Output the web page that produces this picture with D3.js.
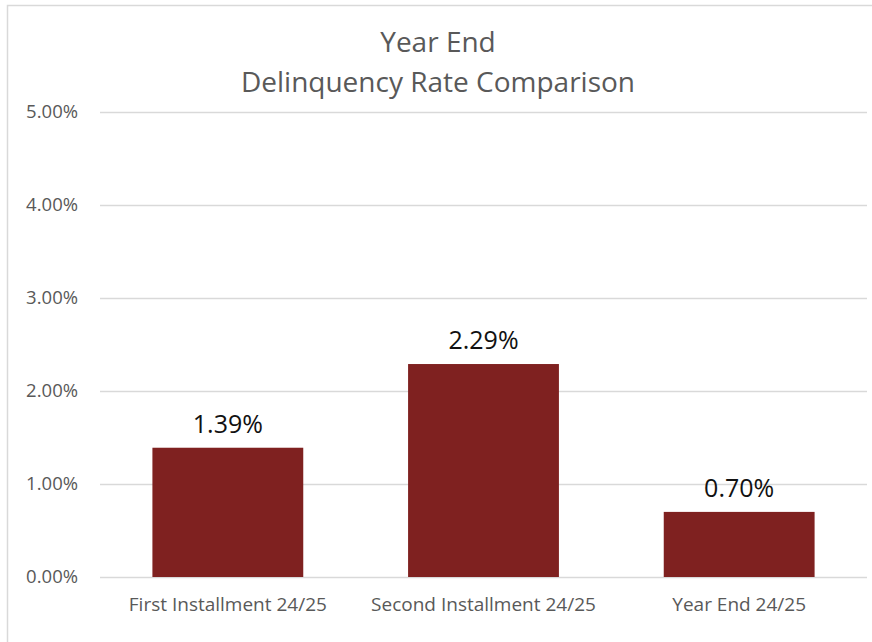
<!DOCTYPE html>
<html>
<head>
<meta charset="utf-8">
<script src="https://cdn.jsdelivr.net/npm/d3@7"></script>
<style>
  body { margin: 0; background: #fff; }
  svg text { font-family: "Open Sans", "Lato", sans-serif; }
</style>
</head>
<body>
<script>

var categories = ["First Installment 24/25", "Second Installment 24/25", "Year End 24/25"]
var rates = [1.39, 2.29, 0.70]
var ticks = [0, 1, 2, 3, 4, 5]
var titleLines = ["Year End", "Delinquency Rate Comparison"]

var width = 872, height = 642
var plotLeft = 100, plotRight = 867, plotTop = 112, plotBottom = 577

var svg = d3.select("body")
  .append("svg")
    .attr("width", width)
    .attr("height", height)

/******** Chart border *********/
svg.append("rect")
  .attr("x", 7.5)
  .attr("y", 5.5)
  .attr("width", 880)
  .attr("height", 660)
  .attr("fill", "none")
  .attr("stroke", "#d9d9d9")
  .attr("stroke-width", 1.5)

/******** Scales *********/
var x = d3.scaleBand()
  .domain(categories)
  .range([plotLeft, plotRight])
  .paddingInner(0.41)
  .paddingOuter(0.205)

var y = d3.scaleLinear()
  .domain([0, 5])
  .range([plotBottom, plotTop])

/******** Gridlines + y axis *********/
var y_axis = d3.axisLeft(y)
  .tickValues(ticks)
  .tickSize(-(plotRight - plotLeft))
  .tickFormat(function(d){ return d.toFixed(2) + "%" })

svg.append("g")
  .attr("class", "y axis")
  .attr("transform", "translate(" + plotLeft + ",0)")
  .call(y_axis)
  .call(function(g){
    g.select(".domain").remove()
    g.selectAll(".tick line").attr("stroke", "#d9d9d9").attr("stroke-width", 1.3)
    g.selectAll(".tick text")
      .attr("fill", "#595959")
      .attr("font-size", "18.5px")
      .attr("x", -22)
  })

/******** Bars *********/
svg.selectAll("rect.bar")
  .data(rates)
  .enter()
  .append("rect")
    .attr("class", "bar")
    .attr("x", function(d, i){ return x(categories[i]) })
    .attr("width", x.bandwidth())
    .attr("y", function(d){ return y(d) })
    .attr("height", function(d){ return y(0) - y(d) })
    .attr("fill", "#7f2120")

/******** Data labels *********/
svg.selectAll("text.value")
  .data(rates)
  .enter()
  .append("text")
    .attr("class", "value")
    .attr("x", function(d, i){ return x(categories[i]) + x.bandwidth() / 2 })
    .attr("y", function(d){ return y(d) - 15 })
    .attr("text-anchor", "middle")
    .attr("font-size", "25px")
    .attr("fill", "#111")
    .text(function(d){ return d.toFixed(2) + "%" })

/******** X axis *********/
var x_axis = d3.axisBottom(x).tickSize(0)

svg.append("g")
  .attr("class", "x axis")
  .attr("transform", "translate(0," + plotBottom + ")")
  .call(x_axis)
  .call(function(g){
    g.select(".domain").remove()
    g.selectAll(".tick text")
      .attr("fill", "#595959")
      .attr("font-size", "19px")
      .attr("y", 34)
      .attr("dy", 0)
  })

/******** Title *********/
svg.selectAll("text.title")
  .data(titleLines)
  .enter()
  .append("text")
    .attr("class", "title")
    .attr("x", 438)
    .attr("y", function(d, i){ return 52 + i * 40 })
    .attr("text-anchor", "middle")
    .attr("font-size", "28px")
    .attr("fill", "#595959")
    .text(function(d){ return d })

</script>
</body>
</html>
